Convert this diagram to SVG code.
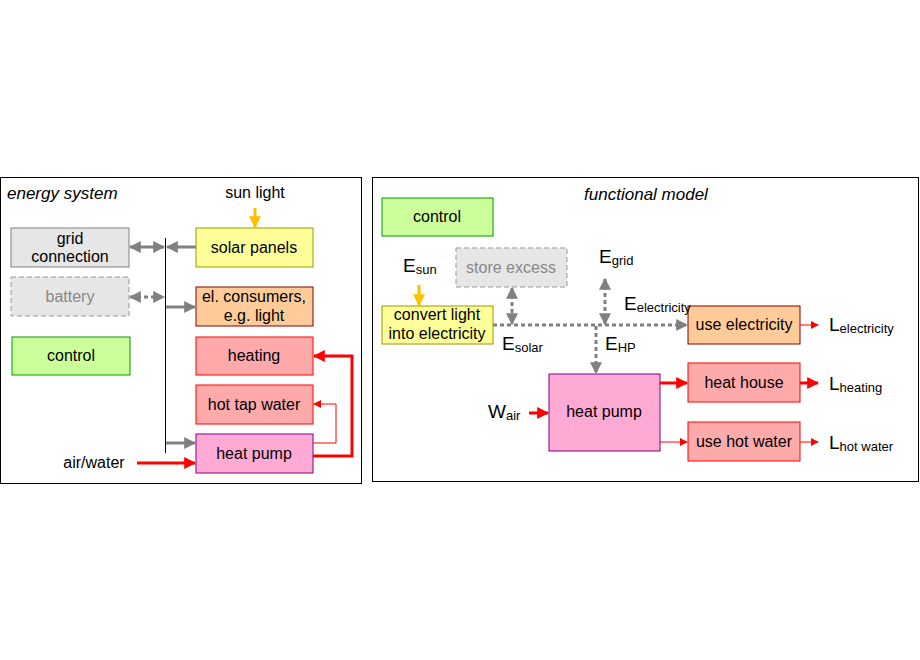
<svg xmlns="http://www.w3.org/2000/svg" width="920" height="660" viewBox="0 0 920 660">
<style>
text{font-family:"Liberation Sans",Arial,sans-serif;font-size:16px;fill:#000}
.c{text-anchor:middle}
.i{font-style:italic;font-size:17px}
.e{font-size:19px}
.s{font-size:13px}
.g{stroke:#808080;stroke-width:3;fill:none}
.gd{stroke:#808080;stroke-width:3;fill:none;stroke-dasharray:4 3}
.r{stroke:#ff0000;fill:none}
</style>
<defs>
<marker id="ag" viewBox="0 0 10 10" refX="9" refY="5" markerWidth="4" markerHeight="4" orient="auto-start-reverse"><path d="M0,0L10,5L0,10z" fill="#808080"/></marker>
<marker id="ar" viewBox="0 0 10 10" refX="9" refY="5" markerWidth="4" markerHeight="4" orient="auto"><path d="M0,0L10,5L0,10z" fill="#ff0000"/></marker>
<marker id="ar2" viewBox="0 0 10 10" refX="9" refY="5" markerWidth="8" markerHeight="8" orient="auto" markerUnits="userSpaceOnUse"><path d="M0,0L10,5L0,10z" fill="#ff0000"/></marker>
<marker id="ao" viewBox="0 0 10 10" refX="9" refY="5" markerWidth="4" markerHeight="4" orient="auto"><path d="M0,0L10,5L0,10z" fill="#ffc000"/></marker>
</defs>
<rect x="0.5" y="177.5" width="361" height="306" fill="#fff" stroke="#000"/>
<rect x="372.5" y="177.5" width="546" height="304" fill="#fff" stroke="#000"/>
<text x="7" y="199" class="i">energy system</text>
<text x="646" y="200" class="i c">functional model</text>
<text x="255" y="198" class="c">sun light</text>

<g id="grid"><rect x="11" y="228" width="118" height="39" fill="#e6e6e6" stroke="#808080"/><text x="70" y="244" class="c">grid</text><text x="70" y="262" class="c">connection</text></g>
<g id="battery"><rect x="11" y="277" width="118" height="39" fill="#e6e6e6" stroke="#999" stroke-dasharray="5 3"/><text x="70" y="302" class="c" style="fill:#888">battery</text></g>
<g id="control1"><rect x="12" y="337" width="118" height="38" fill="#ccff99" stroke="#009900"/><text x="71" y="361" class="c">control</text></g>
<g id="solar"><rect x="196" y="228" width="117" height="39" fill="#ffff99" stroke="#999900"/><text x="254" y="253" class="c">solar panels</text></g>
<g id="consumers"><rect x="196" y="287" width="117" height="39" fill="#ffcc99" stroke="#800000"/><text x="254" y="302" class="c">el. consumers,</text><text x="254" y="321" class="c">e.g. light</text></g>
<g id="heating"><rect x="196" y="337" width="117" height="38" fill="#ffaaaa" stroke="#ff0000"/><text x="254" y="361" class="c">heating</text></g>
<g id="hottap"><rect x="196" y="385" width="117" height="39" fill="#ffaaaa" stroke="#ff0000"/><text x="254" y="410" class="c">hot tap water</text></g>
<g id="hp1"><rect x="196" y="434" width="117" height="39" fill="#ffaad4" stroke="#800080"/><text x="254" y="459" class="c">heat pump</text></g>
<text x="94" y="468" class="c">air/water</text>

<g id="control2"><rect x="382" y="198" width="111" height="38" fill="#ccff99" stroke="#009900"/><text x="437" y="222" class="c">control</text></g>
<g id="store"><rect x="456" y="248" width="111" height="39" fill="#e6e6e6" stroke="#999" stroke-dasharray="5 3"/><text x="511" y="273" class="c" style="fill:#888">store excess</text></g>
<g id="convert"><rect x="382" y="306" width="111" height="38" fill="#ffff99" stroke="#999900"/><text x="437" y="320" class="c">convert light</text><text x="437" y="339" class="c">into electricity</text></g>
<g id="useel"><rect x="688" y="306" width="112" height="38" fill="#ffcc99" stroke="#800000"/><text x="744" y="330" class="c">use electricity</text></g>
<g id="heathouse"><rect x="688" y="363" width="112" height="39" fill="#ffaaaa" stroke="#ff0000"/><text x="744" y="388" class="c">heat house</text></g>
<g id="usehot"><rect x="688" y="422" width="112" height="39" fill="#ffaaaa" stroke="#ff0000"/><text x="744" y="447" class="c">use hot water</text></g>
<g id="hp2"><rect x="549" y="374" width="111" height="77" fill="#ffaad4" stroke="#800080"/><text x="604" y="417" class="c">heat pump</text></g>

<text x="403" y="272" class="e">E<tspan class="s" dy="2">sun</tspan></text>
<text x="599" y="263" class="e">E<tspan class="s" dy="2">grid</tspan></text>
<text x="624" y="310" class="e">E<tspan class="s" dy="2">electricity</tspan></text>
<text x="502" y="350" class="e">E<tspan class="s" dy="2">solar</tspan></text>
<text x="605" y="350" class="e">E<tspan class="s" dy="2">HP</tspan></text>
<text x="488" y="418" class="e">W<tspan class="s" dy="2">air</tspan></text>
<text x="829" y="331" class="e">L<tspan class="s" dy="2">electricity</tspan></text>
<text x="829" y="390" class="e">L<tspan class="s" dy="2">heating</tspan></text>
<text x="829" y="449" class="e">L<tspan class="s" dy="2">hot water</tspan></text>

<g id="connectors">
<line x1="165.5" y1="238" x2="165.5" y2="453" stroke="#000"/>
<line x1="255" y1="208" x2="255" y2="227" stroke="#ffc000" stroke-width="3" marker-end="url(#ao)"/>
<line x1="196" y1="247" x2="167" y2="247" class="g" marker-end="url(#ag)"/>
<line x1="130" y1="247" x2="164" y2="247" class="g" marker-start="url(#ag)" marker-end="url(#ag)"/>
<line x1="130" y1="297" x2="164" y2="297" class="gd" marker-start="url(#ag)" marker-end="url(#ag)"/>
<line x1="166" y1="307" x2="195" y2="307" class="g" marker-end="url(#ag)"/>
<line x1="166" y1="443" x2="195" y2="443" class="g" marker-end="url(#ag)"/>
<line x1="137" y1="463" x2="195" y2="463" class="r" stroke-width="3" marker-end="url(#ar)"/>
<polyline points="313,456 352,456 352,356 314,356" class="r" stroke-width="3" marker-end="url(#ar)"/>
<polyline points="313,443 336,443 336,404 314,404" class="r" marker-end="url(#ar2)"/>

<line x1="419" y1="285" x2="419" y2="305" stroke="#ffc000" stroke-width="3" marker-end="url(#ao)"/>
<line x1="493" y1="325" x2="687" y2="325" class="gd" marker-end="url(#ag)"/>
<line x1="512" y1="288" x2="512" y2="324" class="gd" marker-start="url(#ag)" marker-end="url(#ag)"/>
<line x1="605" y1="279" x2="605" y2="324" class="gd" marker-start="url(#ag)" marker-end="url(#ag)"/>
<line x1="596" y1="326" x2="596" y2="373" class="gd" marker-end="url(#ag)"/>
<line x1="529" y1="413" x2="548" y2="413" class="r" stroke-width="3" marker-end="url(#ar)"/>
<line x1="660" y1="383" x2="687" y2="383" class="r" stroke-width="3" marker-end="url(#ar)"/>
<line x1="660" y1="442" x2="687" y2="442" class="r" marker-end="url(#ar2)"/>
<line x1="800" y1="325" x2="818" y2="325" class="r" marker-end="url(#ar2)"/>
<line x1="800" y1="383" x2="818" y2="383" class="r" stroke-width="3" marker-end="url(#ar)"/>
<line x1="800" y1="442" x2="818" y2="442" class="r" marker-end="url(#ar2)"/>
</g>
</svg>
